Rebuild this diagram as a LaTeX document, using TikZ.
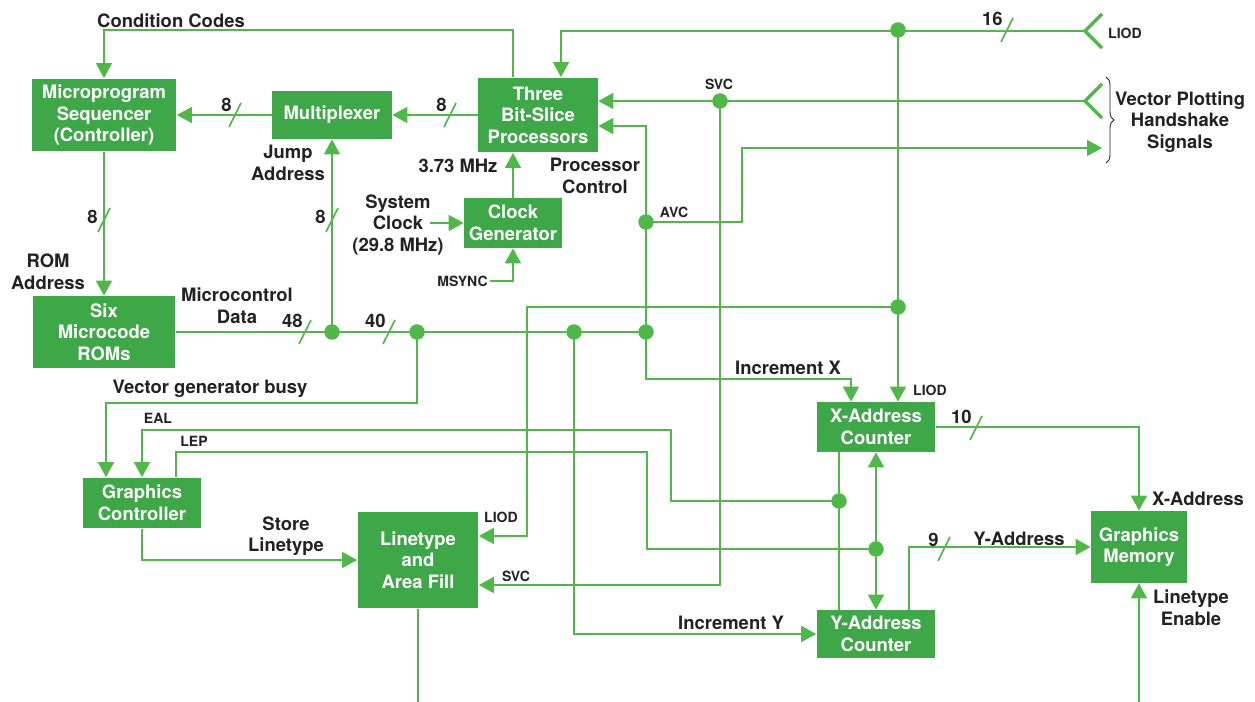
\documentclass[tikz,border=0pt]{standalone}
\usepackage{fontspec}
\setmainfont{TeX Gyre Heros}
\usetikzlibrary{arrows.meta,decorations.pathreplacing}
\definecolor{blockgreen}{RGB}{62,168,72}
\definecolor{wiregreen}{RGB}{80,184,72}
\definecolor{inkgray}{RGB}{34,34,34}

\begin{document}
\begin{tikzpicture}[x=0.02cm, y=-0.02cm,
  every node/.style={font=\fontsize{10.5}{12.3}\selectfont\bfseries, text=inkgray, inner sep=0pt},
  box/.style={fill=blockgreen, text=white, align=center},
  wire/.style={draw=wiregreen, line width=0.9pt},
  arrow/.style={wire, -{Triangle[length=0.3cm, width=0.32cm]}},
  darrow/.style={wire, {Triangle[length=0.3cm, width=0.32cm]}-{Triangle[length=0.3cm, width=0.32cm]}},
  lbl/.style={align=center},
  sig/.style={font=\fontsize{8}{9}\selectfont\bfseries},
  tick/.style={draw=wiregreen, line width=0.9pt},
  chev/.style={draw=wiregreen, line width=2pt, line join=miter}]
  \useasboundingbox (0,0) rectangle (1255,702);

  % blocks
  \node[box, minimum width=2.9cm, minimum height=1.46cm] (seq) at (104,115) {Microprogram\\Sequencer\\(Controller)};
  \node[box, minimum width=2.4cm, minimum height=0.96cm] (mux) at (332,115) {Multiplexer};
  \node[box, minimum width=2.4cm, minimum height=1.5cm] (alu) at (538,115) {Three\\Bit-Slice\\Processors};
  \node[box, minimum width=1.96cm, minimum height=1cm] (clk) at (513,223) {Clock\\Generator};
  \node[box, minimum width=2.86cm, minimum height=1.44cm] (rom) at (104,332) {Six\\Microcode\\ROMs};
  \node[box, minimum width=2.38cm, minimum height=1.02cm] (gctl) at (142,503) {Graphics\\Controller};
  \node[box, minimum width=2.42cm, minimum height=1.94cm] (ltype) at (418,560) {Linetype\\and\\Area Fill};
  \node[box, minimum width=2.38cm, minimum height=1cm] (xcnt) at (876,427) {X-Address\\Counter};
  \node[box, minimum width=2.38cm, minimum height=0.96cm] (ycnt) at (876,634) {Y-Address\\Counter};
  \node[box, minimum width=1.92cm, minimum height=1.44cm] (gmem) at (1139,547) {Graphics\\Memory};

  % junctions and free ends
  \coordinate (jliod) at (898,30);
  \coordinate (jsvc) at (720,101);
  \coordinate (javc) at (646,222);
  \coordinate (jb1) at (332,332);
  \coordinate (jb2) at (417,332);
  \coordinate (jb3) at (574,332);
  \coordinate (jb4) at (646,332);
  \coordinate (jliod2) at (898,307);
  \coordinate (jeal) at (839,501);
  \coordinate (jlep) at (876,549);
  \coordinate (liodin) at (1085,31);
  \coordinate (svcin) at (1085,101);
  \coordinate (avcout) at (1102,148);
  \coordinate (sysclk) at (430,223);
  \coordinate (msync) at (490,281);
  \coordinate (ltout) at (418,702);
  \coordinate (lten) at (1139,702);

  % sequencer and processors
  \draw[arrow] (seq.south) -- (rom.north);
  \draw[arrow] (mux.west) -- (seq.east);
  \draw[arrow] (alu.west) -- (mux.east);
  \draw[arrow] ([xshift=-0.5cm]alu.north) |- (104,30) -- (seq.north);
  \draw[arrow] (liodin) -| ([xshift=0.46cm]alu.north);
  \draw[arrow] (jliod) -- ([xshift=0.44cm]xcnt.north);
  \draw[arrow] (svcin) -- (alu.east |- svcin);
  \draw[arrow] (jsvc) |- ([yshift=-0.5cm]ltype.east);
  \draw[arrow] (jb4) |- ([yshift=-0.22cm]alu.east);
  \draw[arrow] (jb4) |- (851,379) -- ([xshift=-0.5cm]xcnt.north);
  \draw[arrow] (javc) -| (742,148) -- (avcout);
  \draw[chev] (1102,14) -- (liodin) -- (1102,48);
  \draw[chev] (1102,84) -- (svcin) -- (1102,118);
  \draw[inkgray, line width=0.5pt, decorate, decoration={brace, amplitude=0.16cm}] (1106,77) -- (1106,163);

  % clock
  \draw[arrow] (clk.north) -- (clk.north |- alu.south);
  \draw[arrow] (sysclk) -- (clk.west);
  \draw[arrow] (msync) -| (clk.south);

  % microcontrol bus
  \draw[wire] (rom.east) -- (jb4);
  \draw[arrow] (jb1) -- (mux.south);
  \draw[arrow] (jb2) |- (106,403) -- ([xshift=-0.72cm]gctl.north);
  \draw[arrow] (jb3) |- (ycnt.west);
  \draw[arrow] (jliod2) -| (527,536) -- ([yshift=0.48cm]ltype.east);

  % graphics controller and counters
  \draw[wire] ([xshift=-0.74cm]xcnt.south) -- ([xshift=-0.74cm]ycnt.north);
  \draw[darrow] (xcnt.south) -- (ycnt.north);
  \draw[arrow] (jeal) -| (671,430) -| (gctl.north);
  \draw[wire] ([xshift=0.68cm]gctl.north) |- (647,452) |- (jlep);
  \draw[arrow] (gctl.south) |- (ltype.west);
  \draw[arrow] (xcnt.east) -| (gmem.north);
  \draw[arrow] ([xshift=0.66cm]ycnt.north) |- (gmem.west);
  \draw[arrow] (lten) -- (gmem.south);
  \draw[wire] (ltype.south) -- (ltout);

  \foreach \j in {jliod,jsvc,javc,jb1,jb2,jb3,jb4,jliod2,jeal,jlep}
    \fill[wiregreen] (\j) circle (0.155cm);

  % bus widths
  \foreach \sx/\sy in {235/115, 450/115, 104/220, 332/220, 305/332, 389/332, 1007/30, 976/428, 944/549}
    \draw[tick] (\sx,\sy) ++(-6,12) -- ++(12,-24);
  \node[anchor=east] (w1) at (232,105) {8};
  \node[anchor=east] (w2) at (447,105) {8};
  \node[anchor=east] (w3) at (98,217) {8};
  \node[anchor=east] (w4) at (326,217) {8};
  \node[anchor=east] (w5) at (303,321) {48};
  \node[anchor=east] (w6) at (386,321) {40};
  \node[anchor=east] (w7) at (1003,19) {16};
  \node[anchor=east] (w8) at (972,417) {10};
  \node[anchor=east] (w9) at (939,540) {9};

  % labels
  \node (cclbl) at (171,21) {Condition Codes};
  \node[lbl] (jalbl) at (288,163) {Jump\\Address};
  \node (mhzlbl) at (458,166) {3.73 MHz};
  \node[lbl] (pclbl) at (595,176) {Processor\\Control};
  \node[lbl] (sclbl) at (398,225) {System\\Clock\\(29.8 MHz)};
  \node[sig, anchor=east] (mslbl) at (488,281) {MSYNC};
  \node[lbl] (ralbl) at (48,272) {ROM\\Address};
  \node[lbl] (mdlbl) at (237,306) {Microcontrol\\Data};
  \node (vglbl) at (210,389) {Vector generator busy};
  \node[sig] (eallbl) at (158,418) {EAL};
  \node[sig] (leplbl) at (194,441) {LEP};
  \node[lbl] (sllbl) at (286,536) {Store\\Linetype};
  \node[sig] (liodlbl) at (501,517) {LIOD};
  \node[sig] (svclbl) at (516,576) {SVC};
  \node[sig] (svctop) at (719,84) {SVC};
  \node[sig] (avclbl) at (674,212) {AVC};
  \node[sig] (liodtop) at (1125,33) {LIOD};
  \node[lbl] (vplbl) at (1180,122) {Vector Plotting\\Handshake\\Signals};
  \node (ixlbl) at (788,368) {Increment X};
  \node[sig] (liodx) at (930,390) {LIOD};
  \node (xalbl) at (1198,499) {X-Address};
  \node (yalbl) at (1019,539) {Y-Address};
  \node[lbl] (lelbl) at (1191,608) {Linetype\\Enable};
  \node (iylbl) at (731,623) {Increment Y};
\end{tikzpicture}
\end{document}
